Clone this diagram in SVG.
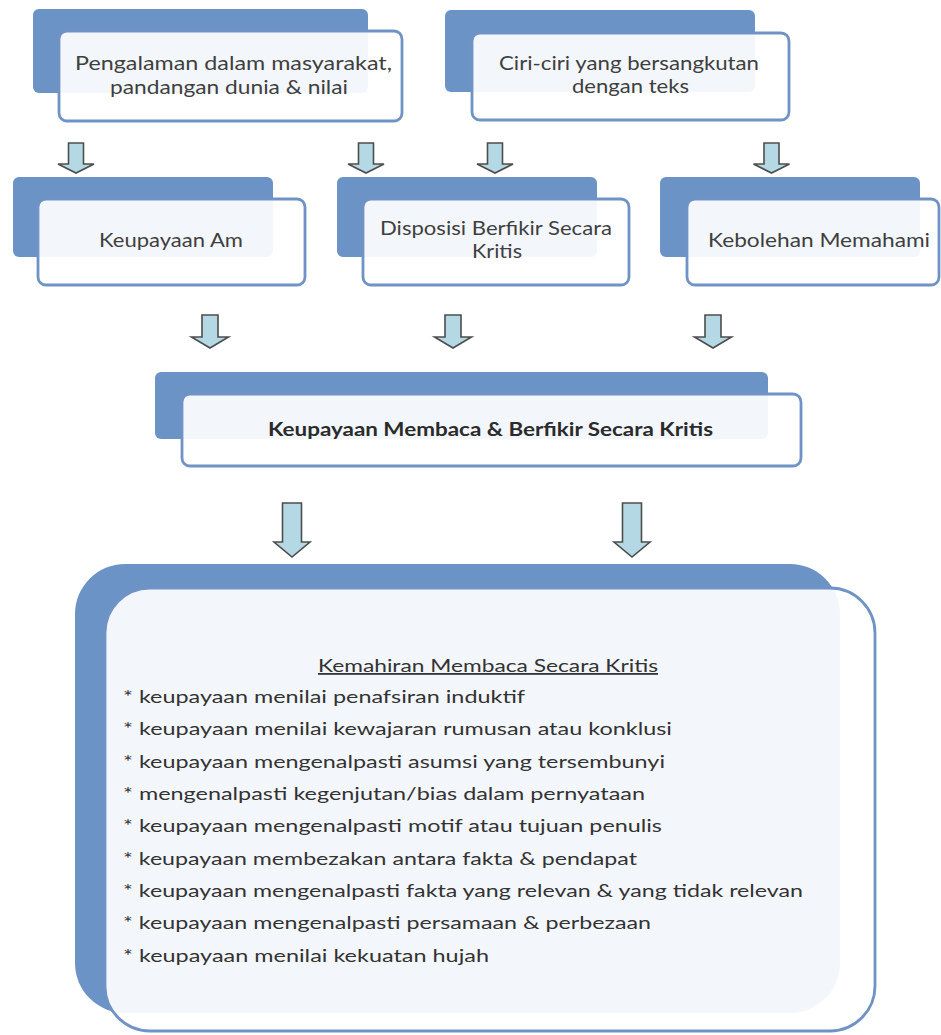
<svg xmlns="http://www.w3.org/2000/svg" width="941" height="1035" viewBox="0 0 941 1035">
<style>
.back{fill:#6b93c6}
.front{fill:#ffffff;fill-opacity:0.92;stroke:#7093c6;stroke-width:2.8}
.lbl{font-family:Lato,"Open Sans","Liberation Sans",sans-serif;font-size:19px;fill:#3f3f3f}
.bold{font-family:Lato,"Open Sans","Liberation Sans",sans-serif;font-size:18px;font-weight:bold;fill:#2b2b2b}
.item{font-family:Lato,"Open Sans","Liberation Sans",sans-serif;font-size:18px;fill:#333333}
.arr{fill:#b4d9e4;stroke:#4d4d4d;stroke-width:1.6;stroke-linejoin:miter}
</style>
<rect width="941" height="1035" fill="#ffffff"/>
<g id="node-pengalaman">
<rect class="back" x="33" y="9" width="335" height="84" rx="6"/>
<rect class="front" x="59" y="31" width="343" height="90" rx="8"/>
<text class="lbl" x="75" y="70" textLength="317" lengthAdjust="spacingAndGlyphs">Pengalaman dalam masyarakat,</text>
<text class="lbl" x="110" y="94" textLength="238" lengthAdjust="spacingAndGlyphs">pandangan dunia &amp; nilai</text>
</g>
<g id="node-ciri">
<rect class="back" x="445" y="10" width="310" height="82" rx="6"/>
<rect class="front" x="472" y="33" width="317" height="87" rx="8"/>
<text class="lbl" x="499" y="70" textLength="260" lengthAdjust="spacingAndGlyphs">Ciri-ciri yang bersangkutan</text>
<text class="lbl" x="572" y="93" textLength="117" lengthAdjust="spacingAndGlyphs">dengan teks</text>
</g>
<g id="node-keupayaan-am">
<rect class="back" x="13" y="177" width="260" height="80" rx="6"/>
<rect class="front" x="38" y="199" width="267" height="86" rx="8"/>
<text class="lbl" x="99" y="247" textLength="144" lengthAdjust="spacingAndGlyphs">Keupayaan Am</text>
</g>
<g id="node-disposisi">
<rect class="back" x="337" y="177" width="260" height="80" rx="6"/>
<rect class="front" x="363" y="199" width="266" height="86" rx="8"/>
<text class="lbl" x="380" y="235" textLength="232" lengthAdjust="spacingAndGlyphs">Disposisi Berfikir Secara</text>
<text class="lbl" x="472" y="258" textLength="50" lengthAdjust="spacingAndGlyphs">Kritis</text>
</g>
<g id="node-kebolehan">
<rect class="back" x="660" y="177" width="260" height="80" rx="6"/>
<rect class="front" x="687" y="199" width="252" height="86" rx="8"/>
<text class="lbl" x="708" y="247" textLength="222" lengthAdjust="spacingAndGlyphs">Kebolehan Memahami</text>
</g>
<g id="node-keupayaan-membaca">
<rect class="back" x="155" y="372" width="613" height="67" rx="6"/>
<rect class="front" x="182" y="394" width="619" height="72" rx="8"/>
<text class="bold" x="268" y="436" textLength="445" lengthAdjust="spacingAndGlyphs">Keupayaan Membaca &amp; Berfikir Secara Kritis</text>
</g>
<g id="node-kemahiran">
<rect class="back" x="75" y="564" width="765" height="449" rx="50"/>
<rect class="front" x="105" y="588" width="770" height="443" rx="45"/>
<text class="item" x="318" y="672" textLength="340" lengthAdjust="spacingAndGlyphs" text-decoration="underline">Kemahiran Membaca Secara Kritis</text>
<text class="item" x="123" y="703" textLength="402" lengthAdjust="spacingAndGlyphs">* keupayaan menilai penafsiran induktif</text>
<text class="item" x="123" y="735.3" textLength="549" lengthAdjust="spacingAndGlyphs">* keupayaan menilai kewajaran rumusan atau konklusi</text>
<text class="item" x="123" y="767.7" textLength="542" lengthAdjust="spacingAndGlyphs">* keupayaan mengenalpasti asumsi yang tersembunyi</text>
<text class="item" x="123" y="800" textLength="522" lengthAdjust="spacingAndGlyphs">* mengenalpasti kegenjutan/bias dalam pernyataan</text>
<text class="item" x="123" y="832.3" textLength="539" lengthAdjust="spacingAndGlyphs">* keupayaan mengenalpasti motif atau tujuan penulis</text>
<text class="item" x="123" y="864.7" textLength="514" lengthAdjust="spacingAndGlyphs">* keupayaan membezakan antara fakta &amp; pendapat</text>
<text class="item" x="123" y="897" textLength="680" lengthAdjust="spacingAndGlyphs">* keupayaan mengenalpasti fakta yang relevan &amp; yang tidak relevan</text>
<text class="item" x="123" y="929.3" textLength="528" lengthAdjust="spacingAndGlyphs">* keupayaan mengenalpasti persamaan &amp; perbezaan</text>
<text class="item" x="123" y="961.7" textLength="366" lengthAdjust="spacingAndGlyphs">* keupayaan menilai kekuatan hujah</text>
</g>
<g id="connectors">
<path class="arr" d="M68.5,143 H83.5 V164 H94 L76,173 L58,164 H68.5 Z"/>
<path class="arr" d="M358.5,143 H373.5 V164 H384 L366,173 L348,164 H358.5 Z"/>
<path class="arr" d="M487.5,143 H502.5 V164 H513 L495,173 L477,164 H487.5 Z"/>
<path class="arr" d="M764,143 H779 V164 H789.5 L771.5,173 L753.5,164 H764 Z"/>
<path class="arr" d="M202,315 H218 V337 H228.5 L210,348 L191.5,337 H202 Z"/>
<path class="arr" d="M445,315 H461 V337 H471.5 L453,348 L434.5,337 H445 Z"/>
<path class="arr" d="M705,315 H721 V337 H731.5 L713,348 L694.5,337 H705 Z"/>
<path class="arr" d="M282.5,503 H301.5 V542 H310 L292,557 L274,542 H282.5 Z"/>
<path class="arr" d="M622.5,503 H641.5 V542 H650 L632,557 L614,542 H622.5 Z"/>
</g>
</svg>
